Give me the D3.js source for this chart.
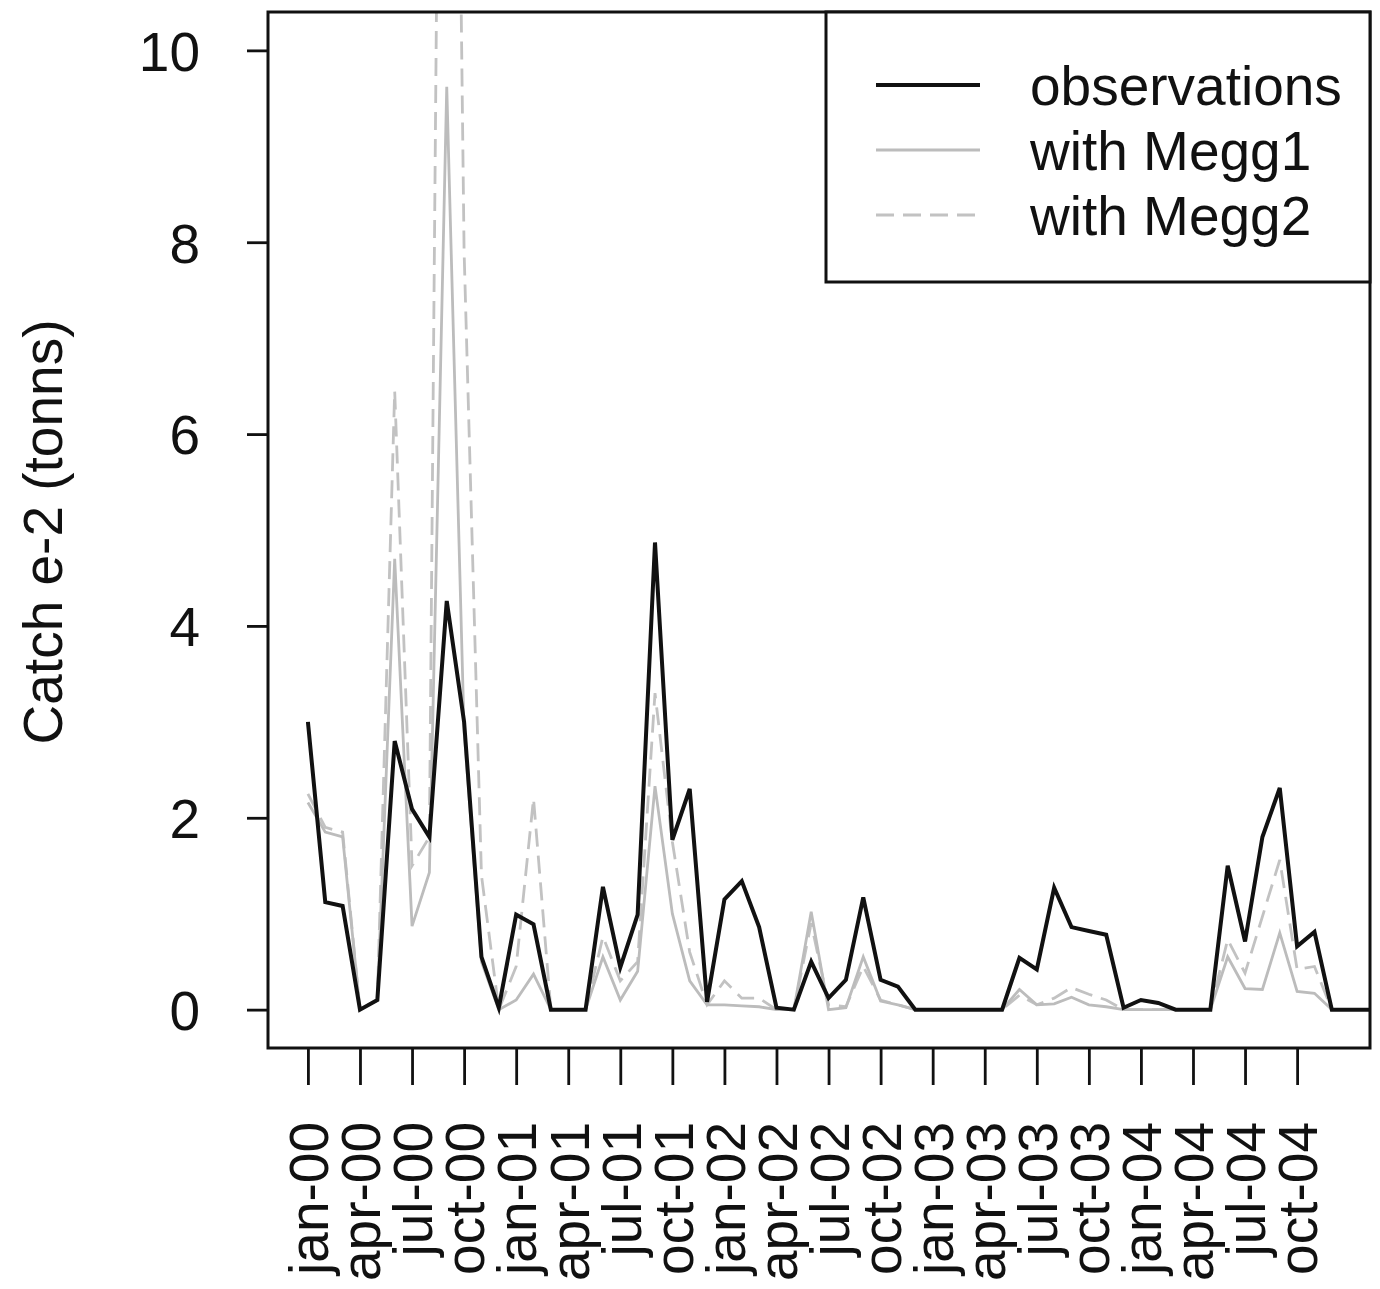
<!DOCTYPE html>
<html>
<head>
<meta charset="utf-8">
<script src="https://cdn.jsdelivr.net/npm/d3@7"></script>
<style>
  html, body { margin: 0; padding: 0; background: #fff; }
  svg { display: block; font-family: "Liberation Sans", Arial, Helvetica, sans-serif; }
</style>
</head>
<body>
<div id="chart"></div>
<script>
// monthly catches, jan-00 = index 0 (values e-2 tonnes)
const observations = [
  3.0, 1.12, 1.08, 0.0, 0.1, 2.8, 2.09, 1.8, 4.26, 3.0, 0.55, 0.02,
  0.99, 0.89, 0, 0, 0, 1.28, 0.44, 0.99, 4.87, 1.77, 2.3, 0.08,
  1.15, 1.34, 0.86, 0.02, 0, 0.5, 0.12, 0.31, 1.17, 0.31, 0.24, 0,
  0, 0, 0, 0, 0, 0.54, 0.42, 1.27, 0.86, 0.82, 0.78, 0.02,
  0.1, 0.07, 0, 0, 0, 1.5, 0.71, 1.8, 2.31, 0.66, 0.81, 0,
  0, 0, 0
];
const megg1 = [
  2.16, 1.85, 1.8, 0, 0.1, 4.7, 0.87, 1.43, 9.62, 2.9, 0.5, 0,
  0.1, 0.37, 0, 0, 0, 0.55, 0.1, 0.4, 2.33, 1.0, 0.3, 0.05,
  0.05, 0.04, 0.03, 0, 0, 1.02, 0, 0.02, 0.55, 0.09, 0.05, 0,
  0, 0, 0, 0, 0, 0.21, 0.05, 0.06, 0.13, 0.05, 0.03, 0,
  0, 0, 0, 0, 0, 0.55, 0.22, 0.21, 0.8, 0.19, 0.17, 0,
  0, 0, 0
];
const megg2 = [
  2.25, 1.9, 1.85, 0, 0.1, 6.45, 1.5, 1.8, 23, 7.9, 1.4, 0,
  0.45, 2.2, 0, 0, 0, 0.76, 0.3, 0.5, 3.3, 1.75, 0.6, 0.05,
  0.3, 0.12, 0.12, 0, 0, 0.9, 0.05, 0.03, 0.45, 0.1, 0.05, 0,
  0, 0, 0, 0, 0, 0.15, 0.05, 0.12, 0.23, 0.16, 0.1, 0,
  0, 0, 0, 0, 0, 0.73, 0.38, 0.97, 1.56, 0.42, 0.45, 0,
  0, 0, 0
];
const tickLabels = [
  'jan-00', 'apr-00', 'jul-00', 'oct-00',
  'jan-01', 'apr-01', 'jul-01', 'oct-01',
  'jan-02', 'apr-02', 'jul-02', 'oct-02',
  'jan-03', 'apr-03', 'jul-03', 'oct-03',
  'jan-04', 'apr-04', 'jul-04', 'oct-04'
];
const yTicks = [0, 2, 4, 6, 8, 10];
const seriesNames = ['observations', 'with Megg1', 'with Megg2'];

const W = 1380, H = 1289;
const plot = { left: 268, top: 12, right: 1370, bottom: 1048 };
const FONT = 55;

const svg = d3.select('#chart').append('svg')
  .attr('width', W)
  .attr('height', H);

const x = d3.scaleLinear().domain([-2.3, 61.2]).range([plot.left, plot.right]);
const y = d3.scaleLinear().domain([-0.4, 10.4]).range([plot.bottom, plot.top]);

svg.append('clipPath').attr('id', 'clip')
  .append('rect')
  .attr('x', plot.left).attr('y', plot.top)
  .attr('width', plot.right - plot.left)
  .attr('height', plot.bottom - plot.top);

// Series lines
const styles = [
  { data: observations, color: '#111', width: 4, dash: null },
  { data: megg1, color: '#bcbcbc', width: 2.8, dash: null },
  { data: megg2, color: '#c2c2c2', width: 2.8, dash: '18,9' }
];

const line = d3.line()
  .x((d, i) => x(i))
  .y(d => y(d));

const lines = svg.append('g').attr('clip-path', 'url(#clip)');
// draw grey series first so the black one sits on top
[2, 1, 0].forEach(k => {
  const s = styles[k];
  lines.append('path')
    .datum(s.data)
    .attr('d', line)
    .attr('fill', 'none')
    .attr('stroke', s.color)
    .attr('stroke-width', s.width)
    .attr('stroke-linejoin', 'miter')
    .attr('stroke-dasharray', s.dash);
});

// Y axis
const yAxis = svg.append('g')
  .attr('transform', `translate(${plot.left - 1},0)`)
  .call(d3.axisLeft(y).tickValues(yTicks).tickSize(20).tickPadding(47).tickFormat(d3.format('d')));
yAxis.select('.domain').remove();
yAxis.selectAll('line').attr('stroke', '#111').attr('stroke-width', 2.8);
yAxis.selectAll('text')
  .attr('fill', '#111')
  .style('font-size', FONT + 'px')
  .attr('dy', '0.36em');

// X axis
const tickIdx = tickLabels.map((d, i) => i * 3);
const xAxis = svg.append('g')
  .attr('transform', `translate(0,${plot.bottom})`)
  .call(d3.axisBottom(x).tickValues(tickIdx).tickSize(37).tickFormat((d, i) => tickLabels[i]));
xAxis.select('.domain').remove();
xAxis.selectAll('line').attr('stroke', '#111').attr('stroke-width', 2.8);
xAxis.selectAll('text')
  .attr('fill', '#111')
  .style('font-size', FONT + 'px')
  .style('text-anchor', 'end')
  .attr('transform', 'rotate(-90)')
  .attr('x', -74)
  .attr('y', 0)
  .attr('dy', '0.36em');

// Plot frame
svg.append('rect')
  .attr('x', plot.left).attr('y', plot.top)
  .attr('width', plot.right - plot.left)
  .attr('height', plot.bottom - plot.top)
  .attr('fill', 'none')
  .attr('stroke', '#111')
  .attr('stroke-width', 3);

// Y title
svg.append('text')
  .attr('transform', 'translate(62,532) rotate(-90)')
  .attr('text-anchor', 'middle')
  .attr('fill', '#111')
  .style('font-size', FONT + 'px')
  .text('Catch e-2 (tonns)');

// Legend
const legend = svg.append('g');
legend.append('rect')
  .attr('x', 826).attr('y', plot.top)
  .attr('width', plot.right - 826)
  .attr('height', 282 - plot.top)
  .attr('fill', '#fff')
  .attr('stroke', '#111')
  .attr('stroke-width', 3);

seriesNames.forEach((name, k) => {
  const ly = 85 + k * 65;
  const s = styles[k];
  legend.append('line')
    .attr('x1', 876).attr('x2', 980)
    .attr('y1', ly).attr('y2', ly)
    .attr('stroke', s.color)
    .attr('stroke-width', s.width)
    .attr('stroke-dasharray', s.dash);
  legend.append('text')
    .attr('x', 1030).attr('y', ly)
    .attr('dy', '0.36em')
    .attr('fill', '#111')
    .style('font-size', FONT + 'px')
    .text(name);
});
</script>
</body>
</html>
